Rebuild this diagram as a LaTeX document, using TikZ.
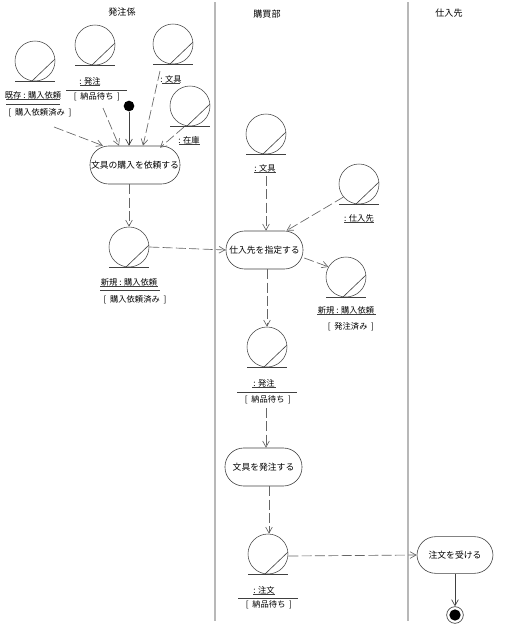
\documentclass[tikz,border=0pt]{standalone}
\usepackage{fontspec}
\setmainfont{Noto Sans CJK JP}
\usetikzlibrary{arrows.meta,calc}
\definecolor{lane}{gray}{0.72}
\definecolor{ink}{gray}{0.25}
\tikzset{
  lanesep/.style={draw=lane,line width=1.5pt},
  objc/.style={circle,draw=ink,line width=0.4pt,minimum size=30pt,inner sep=0pt},
  objl/.style={draw=ink,line width=0.45pt},
  act/.style={draw=ink,line width=0.45pt,rounded corners=14pt,inner sep=0pt,font=\fontsize{6.6}{8}\selectfont},
  txt/.style={inner sep=0pt,font=\fontsize{6.2}{8}\selectfont,text=black},
  head/.style={inner sep=0pt,font=\fontsize{6.8}{8}\selectfont,text=black},
  flow/.style={draw=ink!80,line width=0.5pt,dash pattern=on 7.5pt off 2.5pt,-{Straight Barb[length=4.5pt,width=5pt]}},
  ctrl/.style={draw=ink,line width=0.5pt,-{Straight Barb[length=4.5pt,width=5pt]}},
}
\newcommand{\objsym}[3]{%
  \node[objc] (#1) at (#2,#3) {};
  \draw[objl] ($(#1)+(-20,20)$) -- ($(#1)+(20,20)$);
  \draw[objl] ($(#1)+(-3,20)$) -- ($(#1)+(20,-2)$);
}
\newcommand{\stt}[1]{[\hspace{0.45em}#1\hspace{0.45em}]}
\begin{document}
\begin{tikzpicture}[x=0.75pt,y=-0.75pt]
\useasboundingbox (0,0) rectangle (510,625);
% lanes
\coordinate (l1t) at (215,2); \coordinate (l1b) at (215,621);
\coordinate (l2t) at (408,2); \coordinate (l2b) at (408,621);
\draw[lanesep] (l1t) -- (l1b);
\draw[lanesep] (l2t) -- (l2b);
\node[head] (h1) at (122,12) {発注係};
\node[head] (h2) at (267,14) {購買部};
\node[head] (h3) at (449,13) {仕入先};
% objects
\objsym{o1}{35}{61}
\objsym{o2}{95}{45}
\objsym{o3}{173}{44}
\objsym{o4}{190}{106}
\objsym{o5}{129}{247}
\objsym{o6}{266}{134}
\objsym{o7}{359}{184}
\objsym{o8}{346}{277}
\objsym{o9}{267}{347}
\objsym{o10}{268}{554}
% object labels
\node[txt] (t1) at (33,95) {既存 : 購入依頼};
\draw[objl] (6,99) -- (60,99); \draw[objl] (6,104) -- (60,104);
\node[txt] (s1) at (40,113) {\stt{購入依頼済み}};
\node[txt] (t2) at (90,81) {: 発注};
\draw[objl] (80,85) -- (100,85); \draw[objl] (66,90) -- (127,90);
\node[txt] (s2) at (97,97) {\stt{納品待ち}};
\node[txt] (t3) at (171,79) {: 文具};
\draw[objl] (162,83) -- (180,83);
\node[txt] (t4) at (189,140) {: 在庫};
\draw[objl] (179,144) -- (200,144);
\node[txt] (t5) at (129,282) {新規 : 購入依頼};
\draw[objl] (100,286) -- (158,286); \draw[objl] (100,290) -- (160,290);
\node[txt] (s5) at (135,300) {\stt{購入依頼済み}};
\node[txt] (t6) at (265,168) {: 文具};
\draw[objl] (254,172) -- (276,172);
\node[txt] (t7) at (359,218) {: 仕入先};
\draw[objl] (344,222) -- (374,222);
\node[txt] (t8) at (346,310) {新規 : 購入依頼};
\draw[objl] (317,314) -- (376,314);
\node[txt] (s8) at (351,327) {\stt{発注済み}};
\node[txt] (t9) at (264,383) {: 発注};
\draw[objl] (252,387) -- (276,387); \draw[objl] (237,392) -- (297,392);
\node[txt] (s9) at (268,400) {\stt{納品待ち}};
\node[txt] (t10) at (264,590) {: 注文};
\draw[objl] (253,594) -- (275,594); \draw[objl] (238,598) -- (298,598);
\node[txt] (s10) at (269,605) {\stt{納品待ち}};
% activities
\node[act,minimum width=67.5pt,minimum height=28.5pt] (a1) at (135,165) {文具の購入を依頼する};
\node[act,minimum width=57.75pt,minimum height=28.5pt] (a2) at (264.5,250) {仕入先を指定する};
\node[act,minimum width=57.75pt,minimum height=28.5pt] (a3) at (263.5,467) {文具を発注する};
\node[act,minimum width=57pt,minimum height=27.5pt] (a4) at (455,555) {注文を受ける};
% start, end
\node[circle,fill=black,minimum size=8pt,inner sep=0pt] (st) at (129,106) {};
\node[circle,draw=ink,line width=0.5pt,minimum size=12.5pt,inner sep=0pt] (en) at (455,615) {};
\node[circle,fill=black,minimum size=8.5pt,inner sep=0pt] (eni) at (en) {};
% connectors
\draw[flow] ($(s1)+(14,14)$) -- ($(a1.north)+(-32,0)$);
\draw[flow] ($(s2)+(6,11)$) -- ($(a1.north)+(-16,0)$);
\draw[ctrl] (st) -- ($(a1.north)+(-6,0)$);
\draw[flow] ($(t3)+(-11,-8)$) -- ($(a1.north)+(8,0)$);
\draw[flow] ($(o4)+(-6,21)$) -- ($(a1.north)+(25,2)$);
\draw[flow] ($(a1.south)+(-6,0)$) -- (o5.north);
\draw[flow] (o5.east) -- (a2.west);
\draw[flow] ($(t6)+(1,8)$) -- ($(a2.north)+(1.5,0)$);
\draw[flow] (o7.220) -- ($(a2.north)+(22,0)$);
\draw[flow] ($(a2.east)+(1,8)$) -- (o8.150);
\draw[flow] ($(a2.south)+(2.5,0)$) -- (o9.north);
\draw[flow] ($(s9)+(-2,8)$) -- ($(a3.north)+(2.5,0)$);
\draw[flow] ($(a3.south)+(5.5,0)$) -- ($(o10.north)+(1,0)$);
\draw[flow] ($(o10.east)+(0,2)$) -- (a4.west);
\draw[ctrl] (a4.south) -- (en.north);
\end{tikzpicture}
\end{document}
